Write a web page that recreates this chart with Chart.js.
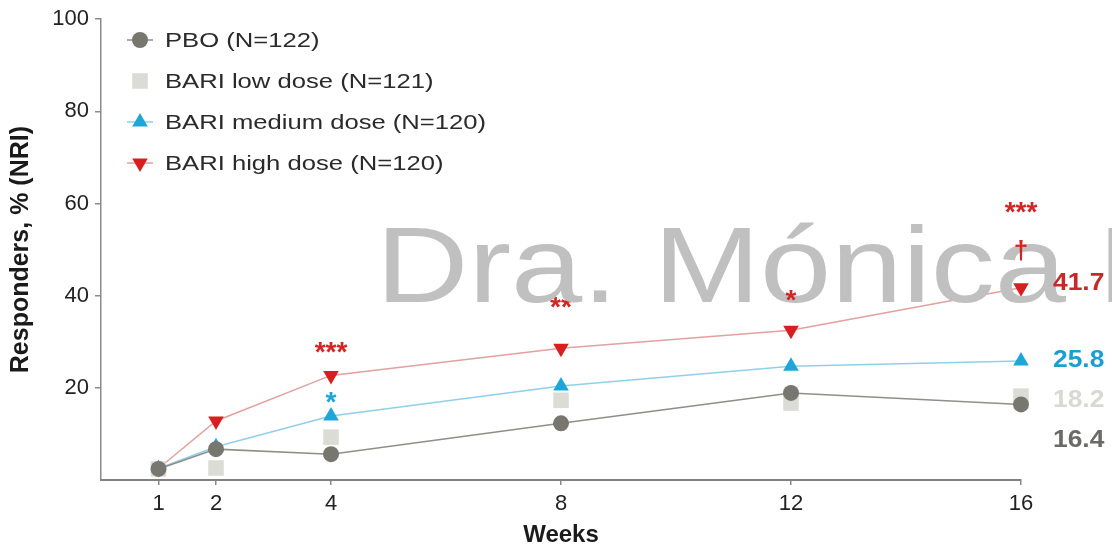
<!DOCTYPE html>
<html>
<head>
<meta charset="utf-8">
<script src="https://cdn.jsdelivr.net/npm/chart.js@4.4.0/dist/chart.umd.min.js"></script>
<style>
  body { margin: 0; background: #fff; }
  #wrap { width: 1112px; height: 550px; position: relative; }
</style>
</head>
<body>
<div id="wrap"><canvas id="responderChart"></canvas></div>
<script>
// values
const weeks = [1, 2, 4, 8, 12, 16];
const pbo = [2.4, 6.7, 5.6, 12.3, 18.9, 16.4];
const lowDose = [2.4, 2.6, 9.3, 17.3, 16.7, 18.2];
const mediumDose = [2.5, 7.2, 13.9, 20.4, 24.7, 25.8];
const highDose = [2.5, 12.8, 22.7, 28.6, 32.5, 41.7];
const yTicks = [0, 20, 40, 60, 80, 100];

// significance markers (week, height in %, symbol, series colour)
const sigWeeks = [4, 4, 8, 12, 16];
const sigHeights = [29.2, 18.4, 39.0, 40.5, 59.6];
const sigTexts = ['***', '*', '**', '*', '***'];
const sigColors = ['#d42424', '#1ea6da', '#d42424', '#d42424', '#d42424'];
const sigUnderWatermark = [false, false, true, false, false];
const daggerWeek = 16;
const daggerHeight = 49.8;

const FONT = '"Liberation Sans", Arial, Helvetica, sans-serif';
const STRETCH = 1.22;

const colors = {
    pbo: '#77776f',
    pboLine: '#8e8e8a',
    low: '#dcdcd6',
    medium: '#1ea6da',
    mediumLine: '#8fd0e8',
    high: '#d81f1f',
    highLine: '#e3a0a0'
};

function makeData(values) {
    return weeks.map((w, i) => ({ x: w, y: values[i] }));
}

const datasets = [
    {
        label: 'PBO (N=122)',
        data: makeData(pbo),
        borderColor: colors.pboLine,
        backgroundColor: colors.pbo,
        pointBackgroundColor: colors.pbo,
        pointStyle: 'circle',
        pointRadius: 8,
        endColor: '#6a6a66',
        endAt: 8.5
    },
    {
        label: 'BARI low dose (N=121)',
        data: makeData(lowDose),
        showLine: false,
        borderColor: colors.low,
        backgroundColor: colors.low,
        pointBackgroundColor: colors.low,
        pointStyle: 'rect',
        pointRadius: 11,
        endColor: '#d8d8d4',
        endAt: 17.3
    },
    {
        label: 'BARI medium dose (N=120)',
        data: makeData(mediumDose),
        borderColor: colors.mediumLine,
        backgroundColor: colors.medium,
        pointBackgroundColor: colors.medium,
        pointStyle: 'triangle',
        pointRadius: 9,
        endColor: '#1b9fd3',
        endAt: 26.0
    },
    {
        label: 'BARI high dose (N=120)',
        data: makeData(highDose),
        borderColor: colors.highLine,
        backgroundColor: colors.high,
        pointBackgroundColor: colors.high,
        pointStyle: 'triangle',
        pointRotation: 180,
        pointRadius: 9,
        endColor: '#c42a2a',
        endAt: 42.7
    }
];

datasets.forEach(ds => {
    ds.borderWidth = 1.5;
    ds.pointBorderWidth = 0;
    ds.tension = 0;
    ds.clip = false;
});

function drawMarker(ctx, ds, x, y) {
    ctx.save();
    ctx.fillStyle = ds.pointBackgroundColor;
    if (Chart.helpers && Chart.helpers.drawPoint) {
        Chart.helpers.drawPoint(ctx, {
            pointStyle: ds.pointStyle,
            radius: ds.pointRadius,
            rotation: ds.pointRotation || 0,
            borderWidth: 0
        }, x, y);
    } else {
        ctx.beginPath();
        ctx.arc(x, y, ds.pointRadius, 0, Math.PI * 2);
        ctx.fill();
    }
    ctx.restore();
}

// text drawn a little wider than the font, like the source figure
function wideText(ctx, text, x, y, sx) {
    ctx.save();
    ctx.translate(x, y);
    ctx.scale(sx, 1);
    ctx.fillText(text, 0, 0);
    ctx.restore();
}

function drawSignificance(chart, under) {
    const ctx = chart.ctx;
    const xs = chart.scales.x;
    const ys = chart.scales.y;
    ctx.save();
    ctx.font = 'bold 28px ' + FONT;
    ctx.textAlign = 'center';
    ctx.textBaseline = 'alphabetic';
    sigWeeks.forEach((w, i) => {
        if (sigUnderWatermark[i] !== under) return;
        ctx.fillStyle = sigColors[i];
        ctx.fillText(sigTexts[i], xs.getPixelForValue(w), ys.getPixelForValue(sigHeights[i]) + 16);
    });
    ctx.restore();
}

const overlayPlugin = {
    id: 'overlay',
    afterDatasetsDraw(chart) {
        const ctx = chart.ctx;
        const xs = chart.scales.x;
        const ys = chart.scales.y;

        drawSignificance(chart, true);

        // watermark (runs off the right edge)
        ctx.save();
        ctx.font = '108px ' + FONT;
        ctx.fillStyle = '#c0c0c0';
        ctx.textBaseline = 'alphabetic';
        const main = 'Dra. Mónica';
        const w = ctx.measureText(main).width;
        const sx = (1066 - 376) / w;
        wideText(ctx, main, 376, 302, sx);
        wideText(ctx, 'L', 1098, 302, sx);
        ctx.restore();

        drawSignificance(chart, false);

        // dagger
        ctx.save();
        ctx.font = 'bold 26px ' + FONT;
        ctx.textAlign = 'center';
        ctx.fillStyle = '#d42424';
        ctx.fillText('†', xs.getPixelForValue(daggerWeek), ys.getPixelForValue(daggerHeight) + 8);
        ctx.restore();

        // end-of-study values
        ctx.save();
        ctx.font = 'bold 24px ' + FONT;
        ctx.textAlign = 'left';
        ctx.textBaseline = 'middle';
        const lastX = xs.getPixelForValue(weeks[weeks.length - 1]);
        chart.data.datasets.forEach(ds => {
            const last = ds.data[ds.data.length - 1].y;
            ctx.fillStyle = ds.endColor;
            wideText(ctx, last.toFixed(1), lastX + 32, ys.getPixelForValue(ds.endAt), 1.1);
        });
        ctx.restore();

        // legend
        ctx.save();
        ctx.font = '21px ' + FONT;
        ctx.textBaseline = 'middle';
        chart.data.datasets.forEach((ds, i) => {
            const ly = 40 + i * 41;
            if (ds.showLine !== false) {
                ctx.strokeStyle = ds.borderColor;
                ctx.lineWidth = 1.5;
                ctx.beginPath();
                ctx.moveTo(127, ly);
                ctx.lineTo(153, ly);
                ctx.stroke();
            }
            drawMarker(ctx, ds, 140, ly);
            ctx.fillStyle = '#2a2a2a';
            wideText(ctx, ds.label, 165, ly + 1, STRETCH);
        });
        ctx.restore();
    }
};

const axisColor = '#8a8a8a';

new Chart(document.getElementById('responderChart'), {
    type: 'line',
    data: { datasets: datasets },
    options: {
        responsive: true,
        maintainAspectRatio: false,
        animation: false,
        events: [],
        layout: { padding: { top: 19, right: 91, left: 0, bottom: 0 } },
        plugins: {
            legend: { display: false },
            tooltip: { enabled: false }
        },
        scales: {
            x: {
                type: 'linear',
                min: 0,
                max: 16,
                afterBuildTicks: scale => { scale.ticks = weeks.map(v => ({ value: v })); },
                afterFit: scale => { scale.height = 70; },
                grid: { drawOnChartArea: false, drawTicks: true, tickLength: 5, color: axisColor, lineWidth: 1.5 },
                border: { display: true, color: '#808080', width: 2 },
                ticks: { color: '#222', font: { family: FONT, size: 22 }, padding: 6, maxRotation: 0 },
                title: {
                    display: true,
                    text: 'Weeks',
                    color: '#1a1a1a',
                    font: { family: FONT, size: 24, weight: 'bold' },
                    padding: { top: 0, bottom: 0 }
                }
            },
            y: {
                min: 0,
                max: 100,
                afterBuildTicks: scale => { scale.ticks = yTicks.map(v => ({ value: v })); },
                afterFit: scale => { scale.width = 101; },
                grid: {
                    drawOnChartArea: false,
                    drawTicks: true,
                    tickLength: 6,
                    color: c => (c.tick && c.tick.value === 0 ? 'rgba(0,0,0,0)' : axisColor),
                    lineWidth: 1.5
                },
                border: { display: true, color: axisColor, width: 1.5 },
                ticks: {
                    color: '#222',
                    font: { family: FONT, size: 22 },
                    padding: 6,
                    callback: v => (v === 0 ? '' : v)
                },
                title: {
                    display: true,
                    text: 'Responders, % (NRI)',
                    color: '#1a1a1a',
                    font: { family: FONT, size: 25, weight: 'bold' },
                    padding: { top: 6, bottom: 0 }
                }
            }
        }
    },
    plugins: [overlayPlugin]
});
</script>
</body>
</html>
